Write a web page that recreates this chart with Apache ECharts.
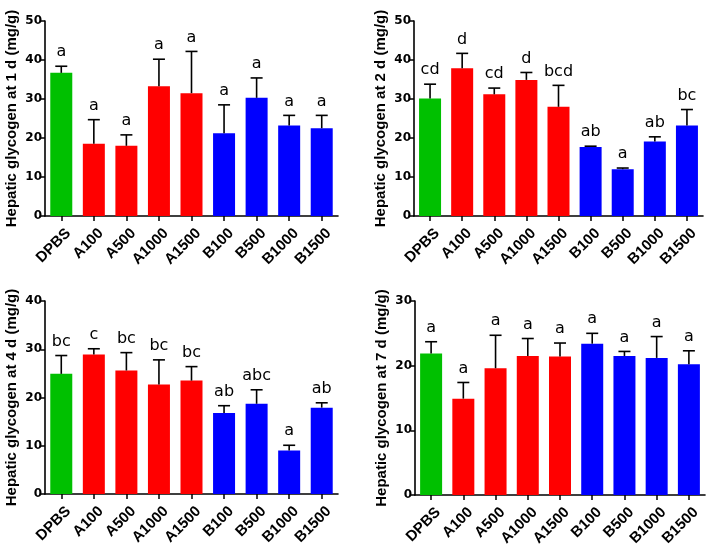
<!DOCTYPE html>
<html>
<head>
<meta charset="utf-8">
<script src="https://cdn.jsdelivr.net/npm/echarts@6/dist/echarts.min.js"></script>
<style>
  html, body { margin: 0; padding: 0; background: #fff; }
  #main { width: 708px; height: 550px; }
</style>
</head>
<body>
<div id="main"></div>
<script>
var categories = ['DPBS', 'A100', 'A500', 'A1000', 'A1500', 'B100', 'B500', 'B1000', 'B1500'];
var barColors = ['#00c000', '#ff0000', '#ff0000', '#ff0000', '#ff0000', '#0000ff', '#0000ff', '#0000ff', '#0000ff'];

// 1 d
var day1Mean = [36.7, 18.5, 18.0, 33.3, 31.5, 21.2, 30.3, 23.2, 22.5];
var day1Sd = [1.7, 6.2, 2.8, 6.9, 10.7, 7.3, 5.1, 2.6, 3.3];
var day1Letters = ['a', 'a', 'a', 'a', 'a', 'a', 'a', 'a', 'a'];
// 2 d
var day2Mean = [30.1, 37.9, 31.2, 34.9, 28.0, 17.7, 12.0, 19.1, 23.2];
var day2Sd = [3.7, 3.8, 1.6, 1.9, 5.5, 0.2, 0.3, 1.2, 4.1];
var day2Letters = ['cd', 'd', 'cd', 'd', 'bcd', 'ab', 'a', 'ab', 'bc'];
// 4 d
var day4Mean = [24.9, 28.9, 25.6, 22.7, 23.5, 16.8, 18.7, 9.0, 17.9];
var day4Sd = [3.8, 1.2, 3.7, 5.1, 2.9, 1.5, 2.9, 1.1, 1.0];
var day4Letters = ['bc', 'c', 'bc', 'bc', 'bc', 'ab', 'abc', 'a', 'ab'];
// 7 d
var day7Mean = [21.9, 14.9, 19.6, 21.5, 21.4, 23.4, 21.5, 21.2, 20.2];
var day7Sd = [1.8, 2.5, 5.1, 2.7, 2.1, 1.6, 0.7, 3.3, 2.1];
var day7Letters = ['a', 'a', 'a', 'a', 'a', 'a', 'a', 'a', 'a'];

var yTitles = ['Hepatic glycogen at 1 d (mg/g)', 'Hepatic glycogen at 2 d (mg/g)',
               'Hepatic glycogen at 4 d (mg/g)', 'Hepatic glycogen at 7 d (mg/g)'];
var yMax = [50, 50, 40, 30];

var panels = [
  { mean: day1Mean, sd: day1Sd, letters: day1Letters },
  { mean: day2Mean, sd: day2Sd, letters: day2Letters },
  { mean: day4Mean, sd: day4Sd, letters: day4Letters },
  { mean: day7Mean, sd: day7Sd, letters: day7Letters }
];

var grids = [
  { left: 45, top: 21, width: 293, height: 195, outerBoundsMode: 'none' },
  { left: 414, top: 21, width: 289, height: 195, outerBoundsMode: 'none' },
  { left: 45, top: 301, width: 293, height: 193, outerBoundsMode: 'none' },
  { left: 415, top: 301, width: 290, height: 194, outerBoundsMode: 'none' }
];

var ARIAL = 'Arial, "Liberation Sans", Helvetica, sans-serif';
var WIDE = '"DejaVu Sans", Arial, sans-serif';
var axisLine = { show: true, lineStyle: { color: '#000', width: 1.6 } };

var xAxes = [], yAxes = [], series = [];
panels.forEach(function (p, k) {
  xAxes.push({
    type: 'category', gridIndex: k, data: categories,
    axisLine: axisLine,
    axisTick: { show: true, alignWithLabel: true, length: 5, lineStyle: { color: '#000', width: 1.5 } },
    axisLabel: { interval: 0, rotate: 45, color: '#000', fontWeight: 'bold', fontSize: 15, fontFamily: ARIAL,
                 margin: 22, padding: [0, -10, 0, 0] }
  });
  yAxes.push({
    type: 'value', gridIndex: k, min: 0, max: yMax[k], interval: 10,
    name: yTitles[k], nameLocation: 'middle', nameGap: 26,
    nameTextStyle: { color: '#000', fontWeight: 'bold', fontSize: 15, fontFamily: ARIAL },
    axisLine: axisLine,
    axisTick: { show: true, length: 4, lineStyle: { color: '#000', width: 1.5 } },
    axisLabel: { color: '#000', fontWeight: 'bold', fontSize: 12, fontFamily: WIDE, margin: 3 },
    splitLine: { show: false }
  });
  series.push({
    type: 'bar', xAxisIndex: k, yAxisIndex: k, barWidth: 22,
    data: p.mean.map(function (v, i) { return { value: v, itemStyle: { color: barColors[i] } }; })
  });
  series.push({
    type: 'custom', xAxisIndex: k, yAxisIndex: k, z: 5, clip: false,
    data: p.mean.map(function (v, i) { return [i, v, v + p.sd[i]]; }),
    renderItem: function (params, api) {
      var base = api.coord([api.value(0), api.value(1)]);
      var top = api.coord([api.value(0), api.value(2)]);
      var ls = { stroke: '#000', lineWidth: 1.6 };
      return {
        type: 'group',
        children: [
          { type: 'line', shape: { x1: base[0], y1: base[1], x2: top[0], y2: top[1] }, style: ls },
          { type: 'line', shape: { x1: top[0] - 6, y1: top[1], x2: top[0] + 6, y2: top[1] }, style: ls },
          { type: 'text', style: { text: p.letters[params.dataIndex], x: top[0], y: top[1] - 6,
              align: 'center', verticalAlign: 'bottom', fill: '#000', font: '16px ' + WIDE } }
        ]
      };
    }
  });
});

var myChart = echarts.init(document.getElementById('main'));
myChart.setOption({
  animation: false,
  backgroundColor: '#fff',
  grid: grids,
  xAxis: xAxes,
  yAxis: yAxes,
  series: series
});
</script>
</body>
</html>
